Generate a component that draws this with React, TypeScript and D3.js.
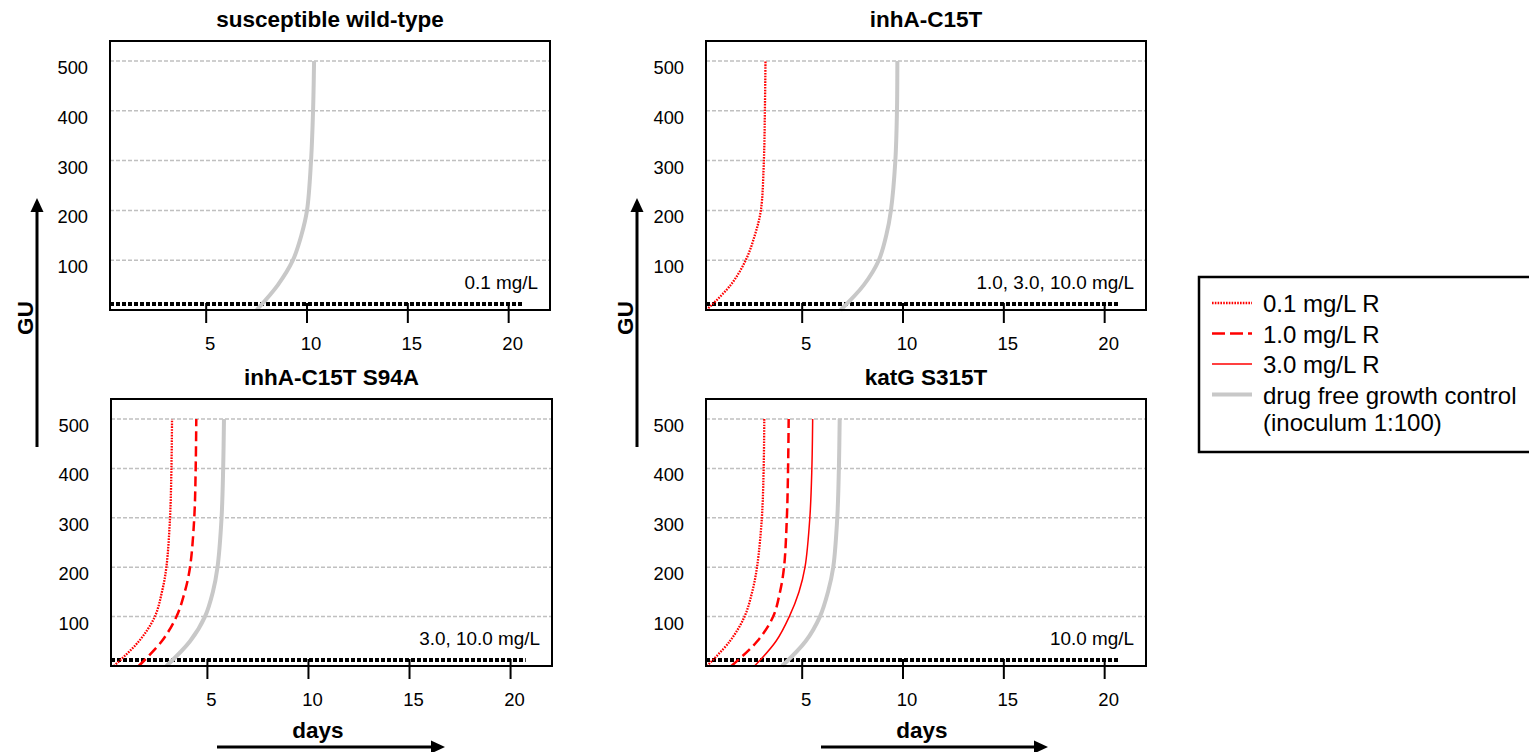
import React from "react";
import * as d3 from "d3";

// GU grid values and day ticks
const guTicks = [100, 200, 300, 400, 500];
const dayTicks = [5, 10, 15, 20];

// detection threshold (dotted black line): [day, GU]
const thresholdLine: [number, number][] = [
  [0.23, 12],
  [20.75, 12],
];

// growth curves, [day, GU]
const wildTypeControl: [number, number][] = [
  [7.5, 0], [8.55, 50], [9.3, 100], [9.72, 150], [10.0, 200], [10.2, 300], [10.3, 400], [10.35, 500],
];

const c15tR01: [number, number][] = [
  [0.25, 0], [1.45, 50], [2.2, 100], [2.65, 150], [2.95, 200], [3.1, 300], [3.15, 400], [3.18, 500],
];
const c15tControl: [number, number][] = [
  [6.9, 0], [8.05, 50], [8.8, 100], [9.17, 150], [9.4, 200], [9.62, 300], [9.7, 400], [9.72, 500],
];

const s94aR01: [number, number][] = [
  [0.37, 0], [1.61, 50], [2.4, 100], [2.75, 150], [2.97, 200], [3.15, 300], [3.22, 400], [3.25, 500],
];
const s94aR10: [number, number][] = [
  [1.6, 0], [2.74, 50], [3.47, 100], [3.88, 150], [4.14, 200], [4.35, 300], [4.42, 400], [4.45, 500],
];
const s94aControl: [number, number][] = [
  [2.97, 0], [4.14, 50], [4.88, 100], [5.27, 150], [5.5, 200], [5.7, 300], [5.78, 400], [5.82, 500],
];

const katgR01: [number, number][] = [
  [0.27, 0], [1.41, 50], [2.14, 100], [2.52, 150], [2.76, 200], [3.0, 300], [3.09, 400], [3.12, 500],
];
const katgR10: [number, number][] = [
  [1.49, 0], [2.77, 50], [3.56, 100], [3.9, 150], [4.1, 200], [4.24, 300], [4.3, 400], [4.33, 500],
];
const katgR30: [number, number][] = [
  [2.64, 0], [3.7, 50], [4.36, 100], [4.84, 150], [5.14, 200], [5.38, 300], [5.48, 400], [5.52, 500],
];
const katgControl: [number, number][] = [
  [4.0, 0], [5.17, 50], [5.88, 100], [6.28, 150], [6.54, 200], [6.74, 300], [6.82, 400], [6.86, 500],
];

const panelTitles = ["susceptible wild-type", "inhA-C15T", "inhA-C15T S94A", "katG S315T"];
const panelNotes = ["0.1 mg/L", "1.0, 3.0, 10.0 mg/L", "3.0, 10.0 mg/L", "10.0 mg/L"];

const legendLabels = ["0.1 mg/L R", "1.0 mg/L R", "3.0 mg/L R", "drug free growth control"];
const legendExtra = "(inoculum 1:100)";

type Kind = "r01" | "r10" | "r30" | "ctrl";

const styles: Record<Kind, { stroke: string; width: number; dash?: string }> = {
  r01: { stroke: "#ff0000", width: 2.3, dash: "1.6,1.2" },
  r10: { stroke: "#ff0000", width: 2.5, dash: "10,5" },
  r30: { stroke: "#ff0000", width: 1.5 },
  ctrl: { stroke: "#c8c8c8", width: 4 },
};

const panels = [
  { title: panelTitles[0], note: panelNotes[0], x0: 110, x1: 550, top: 41, bottom: 310, series: [{ kind: "ctrl" as Kind, data: wildTypeControl }] },
  {
    title: panelTitles[1], note: panelNotes[1], x0: 706, x1: 1146, top: 41, bottom: 310,
    series: [{ kind: "ctrl" as Kind, data: c15tControl }, { kind: "r01" as Kind, data: c15tR01 }],
  },
  {
    title: panelTitles[2], note: panelNotes[2], x0: 111, x1: 552, top: 399, bottom: 666,
    series: [
      { kind: "ctrl" as Kind, data: s94aControl },
      { kind: "r01" as Kind, data: s94aR01 },
      { kind: "r10" as Kind, data: s94aR10 },
    ],
  },
  {
    title: panelTitles[3], note: panelNotes[3], x0: 706, x1: 1146, top: 399, bottom: 666,
    series: [
      { kind: "ctrl" as Kind, data: katgControl },
      { kind: "r01" as Kind, data: katgR01 },
      { kind: "r10" as Kind, data: katgR10 },
      { kind: "r30" as Kind, data: katgR30 },
    ],
  },
];

const FONT = "'Liberation Sans', Arial, sans-serif";

function Panel({ p }: { p: (typeof panels)[number] }) {
  const x = d3.scaleLinear().domain([0.23, 22.05]).range([p.x0, p.x1]);
  const gridTop = p.top + 20;
  const y = d3.scaleLinear().domain([0, 500]).range([p.bottom, gridTop]);
  const line = d3
    .line<[number, number]>()
    .x((d) => x(d[0]))
    .y((d) => y(d[1]))
    .curve(d3.curveCatmullRom.alpha(0.5));
  const straight = d3
    .line<[number, number]>()
    .x((d) => x(d[0]))
    .y((d) => y(d[1]));

  return (
    <g fontFamily={FONT}>
      <text x={(p.x0 + p.x1) / 2} y={p.top - 14} textAnchor="middle" fontWeight="bold" fontSize={22.5}>
        {p.title}
      </text>
      {guTicks.map((t) => (
        <g key={t}>
          <line x1={p.x0} x2={p.x1} y1={y(t)} y2={y(t)} stroke="#c0c0c0" strokeWidth={1.5} strokeDasharray="4,2" />
          <text x={p.x0 - 22} y={y(t) + 13} textAnchor="end" fontSize={18.3}>
            {t}
          </text>
        </g>
      ))}
      {dayTicks.map((t) => (
        <g key={t}>
          <line x1={x(t)} x2={x(t)} y1={p.bottom - 7} y2={p.bottom + 13} stroke="#000" strokeWidth={2} />
          <text x={x(t) + 4} y={p.bottom + 40} textAnchor="middle" fontSize={18.5}>
            {t}
          </text>
        </g>
      ))}
      <text x={p.x1 - 12} y={p.bottom - 21} textAnchor="end" fontSize={18.9}>
        {p.note}
      </text>
      <path d={straight(thresholdLine) || ""} fill="none" stroke="#000" strokeWidth={4} strokeDasharray="4,2" />
      {p.series.map((s, i) => {
        const st = styles[s.kind];
        return (
          <path
            key={i}
            d={line(s.data) || ""}
            fill="none"
            stroke={st.stroke}
            strokeWidth={st.width}
            strokeDasharray={st.dash}
          />
        );
      })}
      <rect x={p.x0} y={p.top} width={p.x1 - p.x0} height={p.bottom - p.top} fill="none" stroke="#000" strokeWidth={2} />
    </g>
  );
}

function Arrow({ x1, y1, x2, y2 }: { x1: number; y1: number; x2: number; y2: number }) {
  const ang = Math.atan2(y2 - y1, x2 - x1);
  const len = 14;
  const half = 6.5;
  const bx = x2 - len * Math.cos(ang);
  const by = y2 - len * Math.sin(ang);
  const px = -Math.sin(ang) * half;
  const py = Math.cos(ang) * half;
  return (
    <g>
      <line x1={x1} y1={y1} x2={bx} y2={by} stroke="#000" strokeWidth={3} />
      <path d={`M${x2},${y2}L${bx + px},${by + py}L${bx - px},${by - py}Z`} fill="#000" />
    </g>
  );
}

export default function App() {
  const legendKinds: Kind[] = ["r01", "r10", "r30", "ctrl"];
  return (
    <div style={{ position: "absolute", left: 0, top: 0 }}>
      <svg width={1529} height={752} style={{ display: "block", background: "#fff" }}>
        {panels.map((p, i) => (
          <Panel key={i} p={p} />
        ))}

        {/* GU axis labels with arrows */}
        {[37, 637].map((ax) => (
          <g key={ax} fontFamily={FONT}>
            <Arrow x1={ax} y1={447} x2={ax} y2={198} />
            <text
              transform={`translate(${ax - 4},318) rotate(-90)`}
              textAnchor="middle"
              fontWeight="bold"
              fontSize={22.5}
            >
              GU
            </text>
          </g>
        ))}

        {/* days labels with arrows */}
        {[
          [217, 445, 318],
          [821, 1048, 922],
        ].map(([a, b, c]) => (
          <g key={a} fontFamily={FONT}>
            <text x={c} y={738} textAnchor="middle" fontWeight="bold" fontSize={22.5}>
              days
            </text>
            <Arrow x1={a} y1={747} x2={b} y2={747} />
          </g>
        ))}

        {/* legend */}
        <g fontFamily={FONT} fontSize={24}>
          <rect x={1199} y={277} width={340} height={175} fill="#fff" stroke="#000" strokeWidth={2.5} />
          {legendLabels.map((lab, i) => {
            const st = styles[legendKinds[i]];
            const yy = 303 + i * 30.5;
            return (
              <g key={lab}>
                <line
                  x1={1212}
                  x2={1252}
                  y1={yy}
                  y2={yy}
                  stroke={st.stroke}
                  strokeWidth={st.width}
                  strokeDasharray={legendKinds[i] === "r10" ? "13,5" : st.dash}
                />
                <text x={1263} y={yy + 9}>
                  {lab}
                </text>
              </g>
            );
          })}
          <text x={1263} y={303 + 4 * 30.5 + 6}>
            {legendExtra}
          </text>
        </g>
      </svg>
    </div>
  );
}
